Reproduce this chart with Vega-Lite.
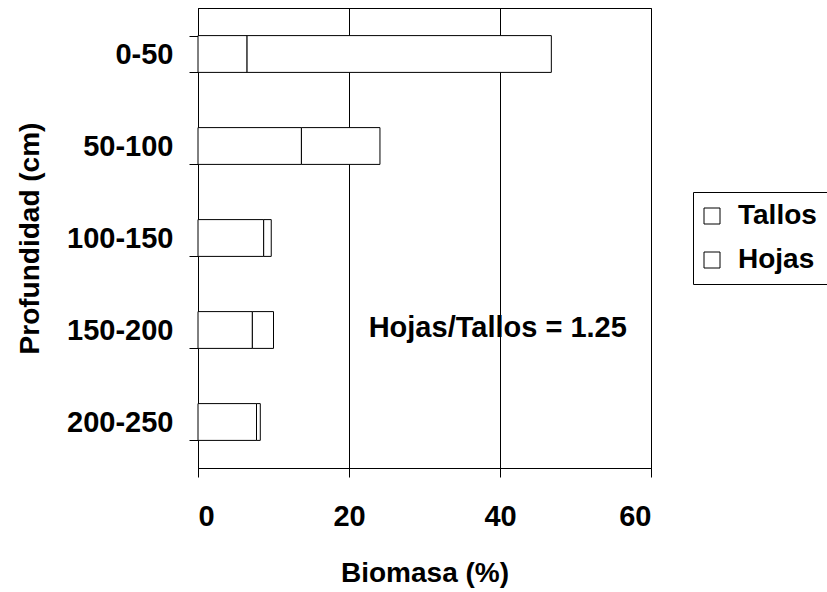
{
  "$schema": "https://vega.github.io/schema/vega-lite/v6.json",
  "autosize": "none",
  "width": 453,
  "height": 460,
  "padding": {"left": 198, "top": 8, "right": 176, "bottom": 124},
  "background": "white",
  "config": {
    "font": "Liberation Sans",
    "view": {"stroke": "black", "strokeWidth": 1},
    "axis": {"labelFont": "Liberation Sans", "titleFont": "Liberation Sans", "labelFontWeight": "bold", "titleFontWeight": "bold", "labelColor": "black", "titleColor": "black", "domainColor": "black", "tickColor": "black", "gridColor": "black", "gridOpacity": 1, "labelFontSize": 29, "titleFontSize": 28}
  },
  "datasets": {
    "bars": [
      {"prof": "0-50", "parte": "Tallos", "orden": 1, "valor": 6.5},
      {"prof": "0-50", "parte": "Hojas", "orden": 2, "valor": 40.3},
      {"prof": "50-100", "parte": "Tallos", "orden": 1, "valor": 13.7},
      {"prof": "50-100", "parte": "Hojas", "orden": 2, "valor": 10.4},
      {"prof": "100-150", "parte": "Tallos", "orden": 1, "valor": 8.7},
      {"prof": "100-150", "parte": "Hojas", "orden": 2, "valor": 1.0},
      {"prof": "150-200", "parte": "Tallos", "orden": 1, "valor": 7.2},
      {"prof": "150-200", "parte": "Hojas", "orden": 2, "valor": 2.8},
      {"prof": "200-250", "parte": "Tallos", "orden": 1, "valor": 7.75},
      {"prof": "200-250", "parte": "Hojas", "orden": 2, "valor": 0.5}
    ],
    "nota": [
      {"prof": "150-200", "x": 39.7, "texto": "Hojas/Tallos = 1.25"}
    ]
  },
  "layer": [
    {
      "data": {"name": "bars"},
      "mark": {"type": "bar", "stroke": "black", "strokeWidth": 1},
      "encoding": {
        "y": {
          "field": "prof", "type": "nominal",
          "sort": ["0-50", "50-100", "100-150", "150-200", "200-250"],
          "scale": {"paddingInner": 0.6, "paddingOuter": 0.3},
          "axis": {"title": "Profundidad (cm)", "tickBand": "extent", "tickSize": 9, "labelPadding": 16, "titlePadding": 22, "grid": false}
        },
        "x": {
          "field": "valor", "type": "quantitative", "stack": "zero",
          "scale": {"domain": [0, 60], "nice": false},
          "axis": {"title": "Biomasa (%)", "values": [0, 20, 40, 60], "tickSize": 9, "labelPadding": 25, "titlePadding": 28, "grid": true}
        },
        "order": {"field": "orden", "type": "quantitative"},
        "color": {
          "field": "parte", "type": "nominal",
          "sort": ["Tallos", "Hojas"],
          "scale": {"domain": ["Tallos", "Hojas"], "range": ["white", "white"]},
          "legend": {
            "title": null, "orient": "none", "legendX": 495, "legendY": 184,
            "symbolType": "square", "symbolSize": 256, "symbolStrokeColor": "black", "symbolStrokeWidth": 1, "symbolFillColor": "white",
            "labelFontSize": 28, "labelFontWeight": "bold", "labelColor": "black", "labelFont": "Liberation Sans",
            "strokeColor": "black", "padding": 10, "rowPadding": 16, "symbolOffset": -5, "labelOffset": 12, "fillColor": "white"
          }
        }
      }
    },
    {
      "data": {"name": "nota"},
      "mark": {"type": "text", "fontSize": 29, "fontWeight": "bold", "font": "Liberation Sans", "color": "black", "align": "center", "baseline": "middle", "dy": -2},
      "encoding": {
        "y": {"field": "prof", "type": "nominal", "sort": ["0-50", "50-100", "100-150", "150-200", "200-250"]},
        "x": {"field": "x", "type": "quantitative"},
        "text": {"field": "texto"}
      }
    }
  ]
}
